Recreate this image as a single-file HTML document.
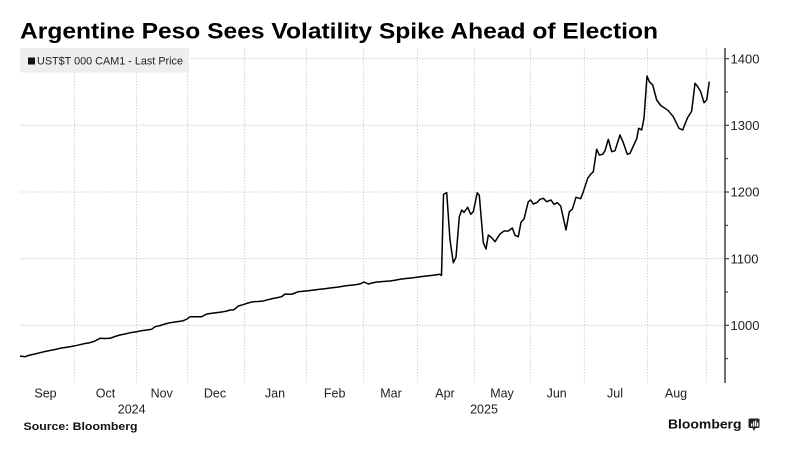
<!DOCTYPE html>
<html><head><meta charset="utf-8"><style>
html,body{margin:0;padding:0;background:#fff;}
svg{display:block;font-family:"Liberation Sans",Arial,sans-serif;}
</style></head><body>
<svg width="786" height="454" viewBox="0 0 786 454" xmlns="http://www.w3.org/2000/svg">
<rect width="786" height="454" fill="#fff"/>
<text x="20" y="38.5" font-size="22.5" font-weight="bold" fill="#000" textLength="638" lengthAdjust="spacingAndGlyphs">Argentine Peso Sees Volatility Spike Ahead of Election</text>
<g stroke="#c8c8c8" stroke-width="0.8" stroke-dasharray="1.5,1.5" fill="none">
<line x1="20" y1="58.7" x2="725" y2="58.7"/>
<line x1="20" y1="125.3" x2="725" y2="125.3"/>
<line x1="20" y1="192" x2="725" y2="192"/>
<line x1="20" y1="258.7" x2="725" y2="258.7"/>
<line x1="20" y1="325.3" x2="725" y2="325.3"/>
<line x1="74.7" y1="48" x2="74.7" y2="383"/>
<line x1="136.7" y1="48" x2="136.7" y2="383"/>
<line x1="187.7" y1="48" x2="187.7" y2="383"/>
<line x1="244.7" y1="48" x2="244.7" y2="383"/>
<line x1="306.7" y1="48" x2="306.7" y2="383"/>
<line x1="363.7" y1="48" x2="363.7" y2="383"/>
<line x1="417.3" y1="48" x2="417.3" y2="383"/>
<line x1="474.7" y1="48" x2="474.7" y2="383"/>
<line x1="530.3" y1="48" x2="530.3" y2="383"/>
<line x1="584.3" y1="48" x2="584.3" y2="383"/>
<line x1="647.3" y1="48" x2="647.3" y2="383"/>
<line x1="706.7" y1="48" x2="706.7" y2="383"/>
</g>
<rect x="20" y="48" width="169" height="24.5" fill="#eeeeee"/>
<rect x="28" y="57.5" width="7" height="7" fill="#111"/>
<text x="37" y="64.5" font-size="11" fill="#222" textLength="146" lengthAdjust="spacingAndGlyphs">UST$T 000 CAM1 - Last Price</text>
<line x1="725" y1="48" x2="725" y2="383" stroke="#222" stroke-width="1.3"/>
<g stroke="#222" stroke-width="1">
<line x1="725" y1="58.7" x2="729" y2="58.7"/>
<line x1="725" y1="92" x2="728" y2="92"/>
<line x1="725" y1="125.3" x2="729" y2="125.3"/>
<line x1="725" y1="158.7" x2="728" y2="158.7"/>
<line x1="725" y1="192" x2="729" y2="192"/>
<line x1="725" y1="225.3" x2="728" y2="225.3"/>
<line x1="725" y1="258.7" x2="729" y2="258.7"/>
<line x1="725" y1="292" x2="728" y2="292"/>
<line x1="725" y1="325.3" x2="729" y2="325.3"/>
<line x1="725" y1="358.7" x2="728" y2="358.7"/>
</g>
<g font-size="13" fill="#222">
<text x="730.5" y="63.3">1400</text>
<text x="730.5" y="130">1300</text>
<text x="730.5" y="196.7">1200</text>
<text x="730.5" y="263.3">1100</text>
<text x="730.5" y="330">1000</text>
</g>
<g font-size="12.5" fill="#222" text-anchor="middle">
<text x="45.5" y="397.5">Sep</text>
<text x="105.5" y="397.5">Oct</text>
<text x="161.7" y="397.5">Nov</text>
<text x="215" y="397.5">Dec</text>
<text x="275" y="397.5">Jan</text>
<text x="334.7" y="397.5">Feb</text>
<text x="391" y="397.5">Mar</text>
<text x="445" y="397.5">Apr</text>
<text x="502" y="397.5">May</text>
<text x="556.7" y="397.5">Jun</text>
<text x="615" y="397.5">Jul</text>
<text x="676" y="397.5">Aug</text>
<text x="131.7" y="413.5">2024</text>
<text x="484" y="413.5">2025</text>
</g>
<polyline fill="none" stroke="#000" stroke-width="1.5" stroke-linejoin="round" points="20,356 25,356.7 30,355 35,354 40,352.7 45,351.5 50,350.5 55,349.5 60,348.3 65,347.5 70,346.7 75,345.8 80,344.7 85,343.5 90,342.7 95,341 100,338.3 105,338.5 110,338.3 115,336.5 120,335 125,334 130,332.8 136.7,331.7 142,330.6 147,330 151.7,329.3 155,326.7 160,325.6 165,324 170,322.7 175,322 180,321.3 183.3,320.7 187,319 190,316.7 195,316.7 201.7,316.7 206.7,314 212,313.3 218,312.5 223.3,311.7 227,311 230,310 233.3,310 236,308 238.3,306 243,304.7 248,303 253.3,301.7 258,301.5 263.3,301 268,299.7 273,298.5 278,297.5 281.7,296.7 285,294 288,294.2 291.7,294.3 295,293 298.3,291.7 303,291.2 308.3,290.7 314,290 320,289.3 325,288.7 330,288 336.7,287.3 340,286.7 346,285.8 353.3,285 360,284 364,282 368.3,284 372,283 376.7,282 383,281.5 390,281 395,280.2 400,279.3 406,278.5 413.3,277.7 420,276.8 426.7,276 433,275.2 440,274.3 441.5,275.5 443.5,195 444,194 446.7,192.7 450,240 453.3,262.7 456,257.3 459.3,216.7 461.7,210 464,212.3 467.7,207.3 470.7,214.3 473.3,211.7 477.3,192.7 479.3,195.3 483.3,242.7 486,249 488.3,235 491.7,237.7 495,241.7 500,234 504,231 508.3,231 512.3,228 515,235.3 518.3,236.7 521,222.3 524,219 528.3,201.7 530.7,200 533.3,204 537.3,202.3 540,199.3 543.3,198.3 546.7,201.7 551,200 554,204.3 557.3,202.7 560.7,206 566,230 569.3,211.7 572.3,209.3 576,197.3 580.7,198.7 583.3,191.7 587.7,178.3 590,175 593.3,171.7 596.7,149.3 599.3,155 602.7,154.3 605,150.7 608.3,139.3 611.7,151.7 615,150.7 620,135 623.3,142.7 627.3,154.3 630,153.3 636.7,138.7 638.7,128.3 641.7,130 644,118.3 647,76 649.3,81.7 652.7,85 656.7,100 660.7,105.5 665,108.3 668.3,110.7 673.3,116.7 679,128.3 682.7,130 687.3,118.3 691.7,111 695,83.3 697.3,86 700.7,91.7 704,102.7 706.7,100 709.3,81.7"/>
<text x="23.5" y="430" font-size="11" font-weight="bold" fill="#111" textLength="114" lengthAdjust="spacingAndGlyphs">Source: Bloomberg</text>
<text x="668" y="428.5" font-size="13" font-weight="bold" fill="#111" textLength="73.5" lengthAdjust="spacingAndGlyphs">Bloomberg</text>
<g>
<rect x="748.5" y="418.5" width="11" height="9.5" rx="1.5" fill="#222"/>
<path d="M752.5,428 L754,431 L755.5,428 Z" fill="#222"/>
<rect x="751" y="423.5" width="1.3" height="3" fill="#fff"/>
<rect x="753" y="421.5" width="1.3" height="5" fill="#fff"/>
<rect x="755" y="420.5" width="1.3" height="6" fill="#fff"/>
<rect x="757" y="422.5" width="1.3" height="4" fill="#fff"/>
</g>
</svg>
</body></html>
